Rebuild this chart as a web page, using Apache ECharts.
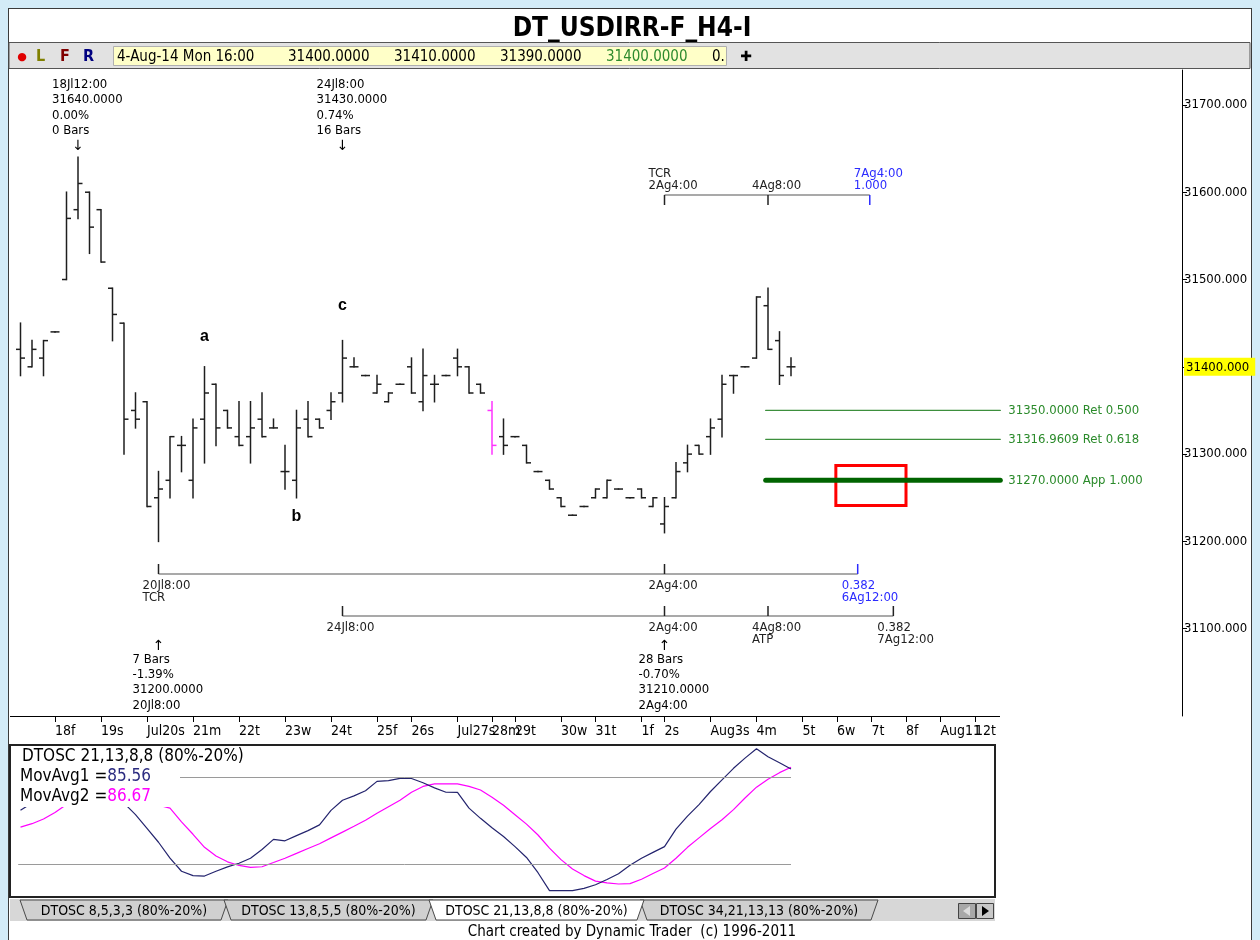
<!DOCTYPE html>
<html>
<head>
<meta charset="utf-8">
<title>DT_USDIRR-F_H4-I</title>
<script src="https://cdn.jsdelivr.net/npm/echarts@6/dist/echarts.min.js"></script>
<style>
  html, body { margin: 0; padding: 0; background: #d3ebf7; }
  #panel { position: absolute; left: 8px; top: 8px; width: 1242px; height: 940px; background: #fff; border: 1px solid #3a3a3a; border-bottom: none; }
  #main { position: absolute; left: 0; top: 0; width: 1260px; height: 940px; }
</style>
</head>
<body>
<div id="panel"></div>
<div id="main"></div>
<script>
// H4 bars, index 0 = first bar on the screen
var opens  = [31420,31400,31410,31440,31500,31580,31600,31580,31490,31450,31350,31360,31250,31270,31310,31270,31340,31380,31350,31320,
              31320,31340,31330,31280,31270,31340,31340,31350,31370,31400,31390,31370,31360,31380,31400,31360,31380,31390,31410,31400,
              31380,31350,31320,31320,31310,31280,31270,31250,31230,31240,31250,31250,31260,31250,31260,31240,31220,31250,31290,31310,
              31320,31340,31390,31400,31410,31470,31430,31400];
var highs  = [31450,31430,31430,31440,31600,31640,31600,31580,31490,31450,31370,31360,31280,31320,31320,31340,31400,31380,31350,31360,
              31360,31370,31340,31310,31350,31360,31340,31370,31430,31410,31390,31390,31370,31380,31410,31420,31390,31390,31420,31400,
              31380,31360,31340,31320,31310,31280,31270,31250,31230,31240,31260,31270,31260,31250,31260,31250,31250,31290,31310,31310,
              31340,31390,31390,31400,31480,31490,31440,31410];
var lows   = [31390,31400,31390,31440,31500,31570,31530,31520,31430,31300,31330,31240,31200,31250,31280,31250,31290,31310,31330,31310,
              31290,31320,31330,31260,31250,31320,31330,31340,31360,31400,31390,31370,31360,31380,31370,31350,31360,31390,31390,31370,
              31370,31300,31300,31320,31290,31280,31260,31240,31230,31240,31250,31250,31260,31250,31250,31240,31210,31250,31280,31300,
              31300,31320,31370,31400,31410,31420,31380,31390];
var closes = [31410,31420,31430,31440,31570,31610,31560,31520,31460,31340,31340,31240,31260,31320,31310,31330,31370,31330,31330,31310,
              31330,31320,31330,31280,31330,31320,31330,31360,31410,31400,31390,31380,31370,31380,31370,31390,31380,31390,31400,31370,
              31370,31310,31310,31320,31290,31280,31260,31240,31230,31240,31260,31270,31260,31250,31250,31250,31240,31280,31300,31300,
              31330,31380,31390,31400,31480,31420,31390,31400];
var MARKED_BAR = 41;
var lastStamp = '4-Aug-14 Mon 16:00';

// day ticks on the time axis (bar index) and their labels
var dayTickIdx = [3,7,11,15,19,23,27,31,34,38,41,43,47,50,54,56,60,64,68,71,74,77,80,83];
var dayLabels = ['18f','19s','Jul20s','21m','22t','23w','24t','25f','26s','Jul27s','28m','29t','30w','31t','1f','2s','Aug3s','4m','5t','6w','7t','8f','Aug11','12t'];

// DTOSC 21,13,8,8
var oscFast = [57,62,67,71,75,78,78,75,70,62,54,44.5,35,24,15,12,11.7,15,18,20.5,
               24,30,37,36,39.6,43,47,57,64,67,70.5,77,77.5,79,79,76,72.5,69.5,69.4,58.5,
               51.5,45,39,32,24.5,14,1.6,1.6,1.6,3.2,5.7,9.3,13.3,19.2,24,28,32,44,53,61,
               70,78,86,93,99.5,94,89.8,85.56];
var oscSlow = [45.4,47.8,51,55.5,61,64,67,68,68,66,64,62,60.5,58.5,49,40.5,31.5,25.5,21.5,19,
               17.7,18.1,21,24,27.3,30.7,34,38,42,46,50.2,55,59.5,64,69.5,73.5,75.2,75.2,75.2,73.5,
               71,66,60.5,54,47.5,40,31,23,16.5,12,8.2,7,6.2,6.5,9.5,13.5,17.2,24,31.5,38,
               44.5,50.5,57.5,65.5,73,78.5,83,86.67];
var oscBands = [80, 20];

// pivots
var topPivotIdx = [5, 28];
var topPivotDate = ['18Jl12:00', '24Jl8:00'];
var topPivotPct = ['0.00%', '0.74%'];
var topPivotBars = [0, 16];
var botPivotIdx = [12, 56];
var botPivotDate = ['20Jl8:00', '2Ag4:00'];
var botPivotPct = ['-1.39%', '-0.70%'];
var botPivotBars = [7, 28];

// wave letters
var waveIdx = [16, 24, 28];
var wavePrice = [31435, 31228, 31470];
var waveText = ['a', 'b', 'c'];

// time rulers
var rulerPrice = [31597, 31163, 31114];
var rulerTicks = [[56, 65], [12, 56], [28, 56, 65]];
var rulerEnd = [73.85, 72.8, 75.9];
var rulerTickText = [['TCR\n2Ag4:00', '4Ag8:00'], ['20Jl8:00\nTCR', '2Ag4:00'], ['24Jl8:00', '2Ag4:00', '4Ag8:00\nATP']];
var rulerEndText = ['7Ag4:00\n1.000', '0.382\n6Ag12:00', '0.382\n7Ag12:00'];

// price levels
var levelPrice = [31350, 31316.9609, 31270];
var levelTag = ['Ret 0.500', 'Ret 0.618', 'App 1.000'];
var levelFrom = 64.8;
var levelTo = 85.2;

// target box
var boxTime = [70.9, 77];
var boxPrice = [31241, 31287];

var FONT = '"DejaVu Sans Condensed", "DejaVu Sans", sans-serif';

function txt(x, y, text, o) {
  o = o || {};
  return {
    type: 'text', x: x, y: y, z: o.z || 0,
    style: {
      text: text, fill: o.fill || '#000', font: (o.font || '13px') + ' ' + (o.family || FONT),
      align: o.align || 'left', textAlign: o.align || 'left',
      verticalAlign: o.va || 'middle', textVerticalAlign: o.va || 'middle',
      lineHeight: o.lh, rich: o.rich
    }
  };
}

function renderBar(params, api) {
  var i = api.value(0);
  var hi = api.coord([i, api.value(2)]);
  var lo = api.coord([i, api.value(3)]);
  var yo = api.coord([i, api.value(1)])[1];
  var yc = api.coord([i, api.value(4)])[1];
  var x = hi[0];
  var style = { stroke: i === MARKED_BAR ? '#ff33ff' : '#1e1e1e', lineWidth: 1.5 };
  return { type: 'group', children: [
    { type: 'line', shape: { x1: x, y1: hi[1] - 0.75, x2: x, y2: lo[1] + 0.75 }, style: style },
    { type: 'line', shape: { x1: x - 4.5, y1: yo, x2: x, y2: yo }, style: style },
    { type: 'line', shape: { x1: x, y1: yc, x2: x + 4.5, y2: yc }, style: style }
  ]};
}

function renderLevel(params, api) {
  var k = params.dataIndex;
  var a = api.coord([levelFrom, levelPrice[k]]);
  var b = api.coord([levelTo, levelPrice[k]]);
  var heavy = levelTag[k].indexOf('App') === 0;
  return { type: 'group', children: [
    { type: 'line', shape: { x1: a[0], y1: a[1], x2: b[0], y2: b[1] },
      style: { stroke: heavy ? '#006400' : '#3d8f3d', lineWidth: heavy ? 5 : 1.3, lineCap: 'round' } },
    txt(b[0] + 8, a[1], levelPrice[k].toFixed(4) + ' ' + levelTag[k], { fill: '#2a8a2a' })
  ]};
}

function renderRuler(params, api) {
  var k = params.dataIndex;
  var p = rulerPrice[k];
  var above = k === 0;
  var dir = above ? 1 : -1;
  var a = api.coord([rulerTicks[k][0], p]);
  var e = api.coord([rulerEnd[k], p]);
  var y = Math.round(a[1]);
  var kids = [{ type: 'line', shape: { x1: a[0], y1: y, x2: e[0], y2: y }, style: { stroke: '#a9a9a9', lineWidth: 2 } }];
  function mark(x, label, color) {
    kids.push({ type: 'line', shape: { x1: x, y1: y, x2: x, y2: y + dir * 10 }, style: { stroke: color, lineWidth: 1.5 } });
    kids.push(txt(x - 16, above ? y - 3 : y + 6, label, { fill: color, va: above ? 'bottom' : 'top', lh: 12 }));
  }
  rulerTicks[k].forEach(function (t, j) {
    mark(api.coord([t, p])[0], rulerTickText[k][j], '#222');
  });
  mark(e[0], rulerEndText[k], k < 2 ? '#2b2bff' : '#222');
  return { type: 'group', children: kids };
}

function renderTopPivot(params, api) {
  var k = params.dataIndex;
  var i = topPivotIdx[k];
  var x = api.coord([i, highs[i]])[0];
  var cs = params.coordSys;
  var text = topPivotDate[k] + '\n' + highs[i].toFixed(4) + '\n' + topPivotPct[k] + '\n' + topPivotBars[k] + ' Bars';
  return { type: 'group', children: [
    txt(x - 26, cs.y + 7, text, { va: 'top', lh: 15.3 }),
    txt(x, cs.y + 76, '\u2193', { align: 'center', font: '14px', family: '"DejaVu Sans", sans-serif' })
  ]};
}

function renderBotPivot(params, api) {
  var k = params.dataIndex;
  var i = botPivotIdx[k];
  var x = api.coord([i, lows[i]])[0];
  var cs = params.coordSys;
  var bottom = cs.y + cs.height;
  var text = botPivotBars[k] + ' Bars\n' + botPivotPct[k] + '\n' + lows[i].toFixed(4) + '\n' + botPivotDate[k];
  return { type: 'group', children: [
    txt(x - 26, bottom - 64, text, { va: 'top', lh: 15.2 }),
    txt(x, bottom - 70, '\u2191', { align: 'center', font: '14px', family: '"DejaVu Sans", sans-serif' })
  ]};
}

function renderWave(params, api) {
  var k = params.dataIndex;
  var pt = api.coord([waveIdx[k], wavePrice[k]]);
  return txt(pt[0], pt[1], waveText[k], { align: 'center', font: 'bold 16px', family: '"Liberation Sans", sans-serif' });
}

var barRows = opens.map(function (o, i) { return [i, o, highs[i], lows[i], closes[i]]; });
var n = closes.length - 1;

// window chrome
var chrome = [];
chrome.push(txt(632, 29, 'DT_USDIRR-F_H4-I', { align: 'center', font: 'bold 26px' }));
chrome.push({ type: 'rect', shape: { x: 9, y: 42.5, width: 1241, height: 26 }, style: { fill: '#e2e2e2', stroke: '#555', lineWidth: 1 } });
chrome.push(txt(22, 57, '\u25CF', { fill: '#e00000', font: '11px', align: 'center', family: '"DejaVu Sans", sans-serif' }));
chrome.push(txt(36, 57, 'L', { fill: '#808000', font: 'bold 16px' }));
chrome.push(txt(60, 57, 'F', { fill: '#800000', font: 'bold 16px' }));
chrome.push(txt(83, 57, 'R', { fill: '#000080', font: 'bold 16px' }));
chrome.push({ type: 'rect', shape: { x: 113.5, y: 46.5, width: 613, height: 19 }, style: { fill: '#ffffc8', stroke: '#b0b0b0', lineWidth: 1 } });
chrome.push(txt(117, 57, lastStamp, { font: '15px' }));
chrome.push(txt(288, 57, opens[n].toFixed(4), { font: '15px' }));
chrome.push(txt(394, 57, highs[n].toFixed(4), { font: '15px' }));
chrome.push(txt(500, 57, lows[n].toFixed(4), { font: '15px' }));
chrome.push(txt(606, 57, closes[n].toFixed(4), { font: '15px', fill: '#2e8b2e' }));
chrome.push(txt(712, 57, '0.', { font: '15px' }));
chrome.push(txt(746, 57, '\u271A', { align: 'center', font: '14px', family: '"DejaVu Sans", sans-serif' }));
chrome.push({ type: 'line', shape: { x1: 10, y1: 716.5, x2: 1000, y2: 716.5 }, style: { stroke: '#000', lineWidth: 1 } });
chrome.push({ type: 'rect', shape: { x: 10, y: 745, width: 985, height: 152 }, style: { fill: 'none', stroke: '#222', lineWidth: 2 } });
// oscillator caption box covering the start of the lines
chrome.push({ type: 'rect', z: 100, shape: { x: 18, y: 749, width: 162, height: 58 }, style: { fill: '#fff' } });
chrome.push(txt(22, 757, 'DTOSC 21,13,8,8 (80%-20%)', { font: '17px', z: 101 }));
chrome.push(txt(20, 777, 'MovAvg1 ={a|' + oscFast[n].toFixed(2) + '}', { font: '17px', z: 101,
  rich: { a: { fill: '#2b2b80', font: '17px ' + FONT } } }));
chrome.push(txt(20, 797, 'MovAvg2 ={a|' + oscSlow[n].toFixed(2) + '}', { font: '17px', z: 101,
  rich: { a: { fill: '#ff00ff', font: '17px ' + FONT } } }));
// tabs
chrome.push({ type: 'rect', shape: { x: 10, y: 899, width: 985, height: 22 }, style: { fill: '#d7d7d7' } });
var tabText = ['DTOSC 8,5,3,3 (80%-20%)', 'DTOSC 13,8,5,5 (80%-20%)', 'DTOSC 21,13,8,8 (80%-20%)', 'DTOSC 34,21,13,13 (80%-20%)'];
var tabEdge = [20, 224, 429, 640, 874];
var activeTab = 2;
[0, 1, 3, 2].forEach(function (t) {
  var x0 = tabEdge[t], x1 = tabEdge[t + 1] + 4;
  chrome.push({ type: 'polygon', shape: { points: [[x0, 900], [x1, 900], [x1 - 7, 920], [x0 + 7, 920]] },
    style: { fill: t === activeTab ? '#ffffff' : '#d0d0d0', stroke: '#4a4a4a', lineWidth: 1 } });
  chrome.push(txt((x0 + x1) / 2, 911, tabText[t], { align: 'center', font: '14px' }));
});
chrome.push({ type: 'rect', shape: { x: 958.5, y: 903.5, width: 17, height: 15 }, style: { fill: '#a8a8a8', stroke: '#444' } });
chrome.push({ type: 'rect', shape: { x: 976.5, y: 903.5, width: 17, height: 15 }, style: { fill: '#c8c8c8', stroke: '#444' } });
chrome.push({ type: 'polygon', shape: { points: [[963, 911], [970, 906], [970, 916]] }, style: { fill: '#dcdcdc' } });
chrome.push({ type: 'polygon', shape: { points: [[989, 911], [982, 906], [982, 916]] }, style: { fill: '#000' } });
chrome.push(txt(632, 932, 'Chart created by Dynamic Trader  (c) 1996-2011', { align: 'center', font: '15px' }));

// day labels: the last one sits on its own axis so ECharts does not drop its crowded neighbour
var dayLabelStyle = { hideOverlap: false, showMinLabel: true, showMaxLabel: true,
  align: 'left', margin: 8, color: '#000', fontSize: 14, fontFamily: FONT,
  formatter: function (v) { return dayLabels[dayTickIdx.indexOf(v)]; } };
function dayAxis(ticks, labels) {
  return {
    type: 'value', gridIndex: 0, position: 'bottom', offset: 0, min: -1, max: 101,
    axisLine: { show: false, onZero: false },
    splitLine: { show: false },
    axisTick: { show: ticks.length > 0, customValues: ticks, length: 6, lineStyle: { color: '#000', width: 1 } },
    axisLabel: Object.assign({ customValues: labels }, dayLabelStyle)
  };
}

var chart = echarts.init(document.getElementById('main'));
chart.setOption({
  animation: false,
  backgroundColor: 'transparent',
  graphic: { elements: chrome },
  grid: [
    { left: 9, right: 78, top: 70, bottom: 224, outerBoundsMode: 'none' },
    { left: 9, right: 78, top: 748, bottom: 47, outerBoundsMode: 'none' }
  ],
  xAxis: [
    dayAxis(dayTickIdx, dayTickIdx.slice(0, -1)),
    { type: 'value', gridIndex: 1, min: -1, max: 101, show: false },
    dayAxis([], dayTickIdx.slice(-1))
  ],
  yAxis: [
    {
      type: 'value', gridIndex: 0, position: 'right', min: 31000, max: 31740, interval: 100,
      splitLine: { show: false },
      axisLine: { show: true, onZero: false, lineStyle: { color: '#000', width: 1 } },
      axisTick: { show: true, length: 5, lineStyle: { color: '#000' } },
      axisLabel: {
        showMinLabel: false, showMaxLabel: false, margin: 2, color: '#000', fontSize: 13, fontFamily: FONT,
        formatter: function (v) {
          return v === closes[n] ? '{hl|' + v.toFixed(3) + '}' : v.toFixed(3);
        },
        rich: { hl: { backgroundColor: '#ffff00', padding: [3, 6, 2, 2], fontSize: 13, fontFamily: FONT, color: '#000' } }
      }
    },
    { type: 'value', gridIndex: 1, min: 0, max: 100, show: false }
  ],
  series: [
    {
      type: 'custom', name: 'levels', xAxisIndex: 0, yAxisIndex: 0,
      renderItem: renderLevel, encode: { x: 0, y: 1 },
      data: levelPrice.map(function (p) { return [levelFrom, p]; })
    },
    {
      type: 'custom', name: 'bars', xAxisIndex: 0, yAxisIndex: 0,
      renderItem: renderBar, encode: { x: 0, y: [1, 2, 3, 4] }, data: barRows,
      markArea: {
        silent: true,
        itemStyle: { color: 'rgba(0,0,0,0)', borderColor: '#ff0000', borderWidth: 3 },
        data: [[{ coord: [boxTime[0], boxPrice[1]] }, { coord: [boxTime[1], boxPrice[0]] }]]
      }
    },
    {
      type: 'custom', name: 'rulers', xAxisIndex: 0, yAxisIndex: 0,
      renderItem: renderRuler, encode: { x: 0, y: 1 },
      data: rulerPrice.map(function (p, k) { return [rulerTicks[k][0], p]; })
    },
    {
      type: 'custom', name: 'topPivots', xAxisIndex: 0, yAxisIndex: 0,
      renderItem: renderTopPivot, encode: { x: 0, y: 1 },
      data: topPivotIdx.map(function (i) { return [i, highs[i]]; })
    },
    {
      type: 'custom', name: 'botPivots', xAxisIndex: 0, yAxisIndex: 0,
      renderItem: renderBotPivot, encode: { x: 0, y: 1 },
      data: botPivotIdx.map(function (i) { return [i, lows[i]]; })
    },
    {
      type: 'custom', name: 'waves', xAxisIndex: 0, yAxisIndex: 0,
      renderItem: renderWave, encode: { x: 0, y: 1 },
      data: waveIdx.map(function (i, k) { return [i, wavePrice[k]]; })
    },
    {
      type: 'line', name: 'MovAvg2', xAxisIndex: 1, yAxisIndex: 1, showSymbol: false,
      lineStyle: { color: '#ff00ff', width: 1.2 },
      data: oscSlow.map(function (v, i) { return [i, v]; }),
      markLine: {
        silent: true, symbol: ['none', 'none'], label: { show: false },
        lineStyle: { color: '#9a9a9a', type: 'solid', width: 1 },
        data: oscBands.map(function (b) { return [{ coord: [-0.2, b] }, { coord: [n, b] }]; })
      }
    },
    {
      type: 'line', name: 'MovAvg1', xAxisIndex: 1, yAxisIndex: 1, showSymbol: false,
      lineStyle: { color: '#24246e', width: 1.2 },
      data: oscFast.map(function (v, i) { return [i, v]; })
    }
  ]
});
</script>
</body>
</html>
